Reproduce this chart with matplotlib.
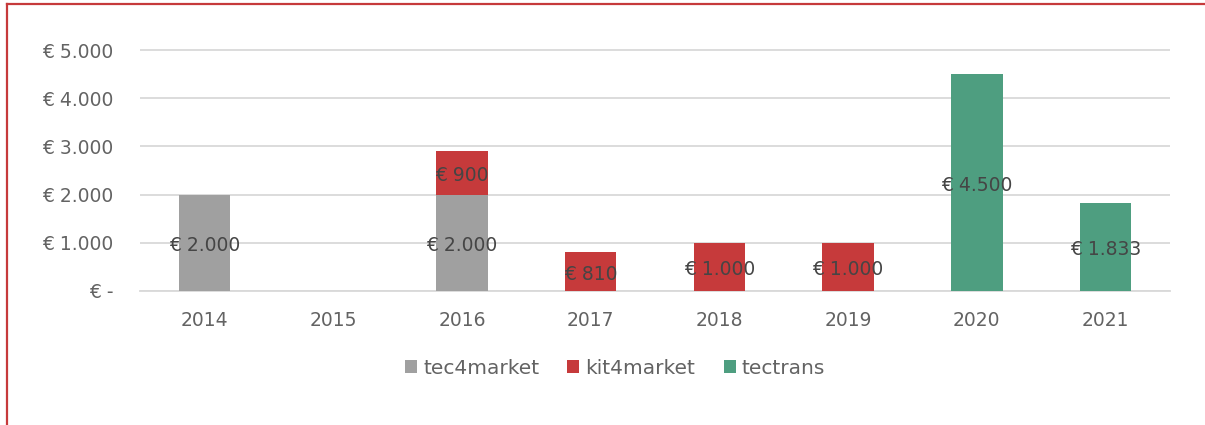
import numpy as np
import matplotlib.pyplot as plt
import matplotlib
from matplotlib.lines import Line2D

matplotlib.rcParams['font.family'] = ['DejaVu Sans']

years = ['2014', '2015', '2016', '2017', '2018', '2019', '2020', '2021']
tec4market = [2000, 0, 2000, 0, 0, 0, 0, 0]
kit4market = [0, 0, 900, 810, 1000, 1000, 0, 0]
tectrans = [0, 0, 0, 0, 0, 0, 4500, 1833]

series = [('tec4market', tec4market, '#A0A0A0'),
          ('kit4market', kit4market, '#C63A3B'),
          ('tectrans', tectrans, '#4E9E80')]

txt = '#636363'

def euro(v):
    if v == 0:
        return '€ -'
    return '€ ' + f'{v:,.0f}'.replace(',', '.')

fig = plt.figure(figsize=(12.05, 4.25), dpi=100)
ax = fig.add_axes([140/1205, 1 - 291/425, 1030/1205, 241/425 * 1.02])

x = np.arange(len(years))
bottom = np.zeros(len(years))
for name, vals, col in series:
    vals = np.array(vals, dtype=float)
    ax.bar(x, vals, 0.4, bottom=bottom, color=col, label=name, zorder=3)
    for xi, v, b in zip(x, vals, bottom):
        if v > 0:
            ax.annotate(euro(v), (xi, b + v / 2), xytext=(0, -2),
                        textcoords='offset points', ha='center', va='center',
                        fontsize=13.5, color='#454545', zorder=4)
    bottom += vals

ax.set_xlim(-0.5, len(years) - 0.5)
ax.set_ylim(0, 5000 * 1.02)
ax.set_yticks(range(0, 5001, 1000))
ax.set_yticklabels([euro(v) for v in range(0, 5001, 1000)])
ax.set_xticks(x)
ax.set_xticklabels(years)
ax.tick_params(axis='y', length=0, pad=19, labelsize=13.5, labelcolor=txt)
ax.tick_params(axis='x', length=0, pad=14.5, labelsize=13.5, labelcolor=txt)
ax.grid(axis='y', color='#D9D9D9', linewidth=1.3, zorder=0)
for s in ['top', 'right', 'left']:
    ax.spines[s].set_visible(False)
ax.spines['bottom'].set_color('#D9D9D9')
ax.spines['bottom'].set_linewidth(1.3)

leg = ax.legend(loc='center', bbox_to_anchor=(615/1205, 1 - 368/425),
                bbox_transform=fig.transFigure, ncol=3, frameon=False,
                fontsize=14.5, handlelength=0.6, handleheight=0.6,
                handletextpad=0.3, columnspacing=1.4)
for t in leg.get_texts():
    t.set_color(txt)

# red frame lines (left and top)
fig.add_artist(Line2D([7.5/1205, 7.5/1205], [0, 1 - 4/425], color='#C63A3B', lw=1.6))
fig.add_artist(Line2D([7/1205, 1], [1 - 4/425, 1 - 4/425], color='#C63A3B', lw=1.6))

fig.savefig('out.png', dpi=100)
